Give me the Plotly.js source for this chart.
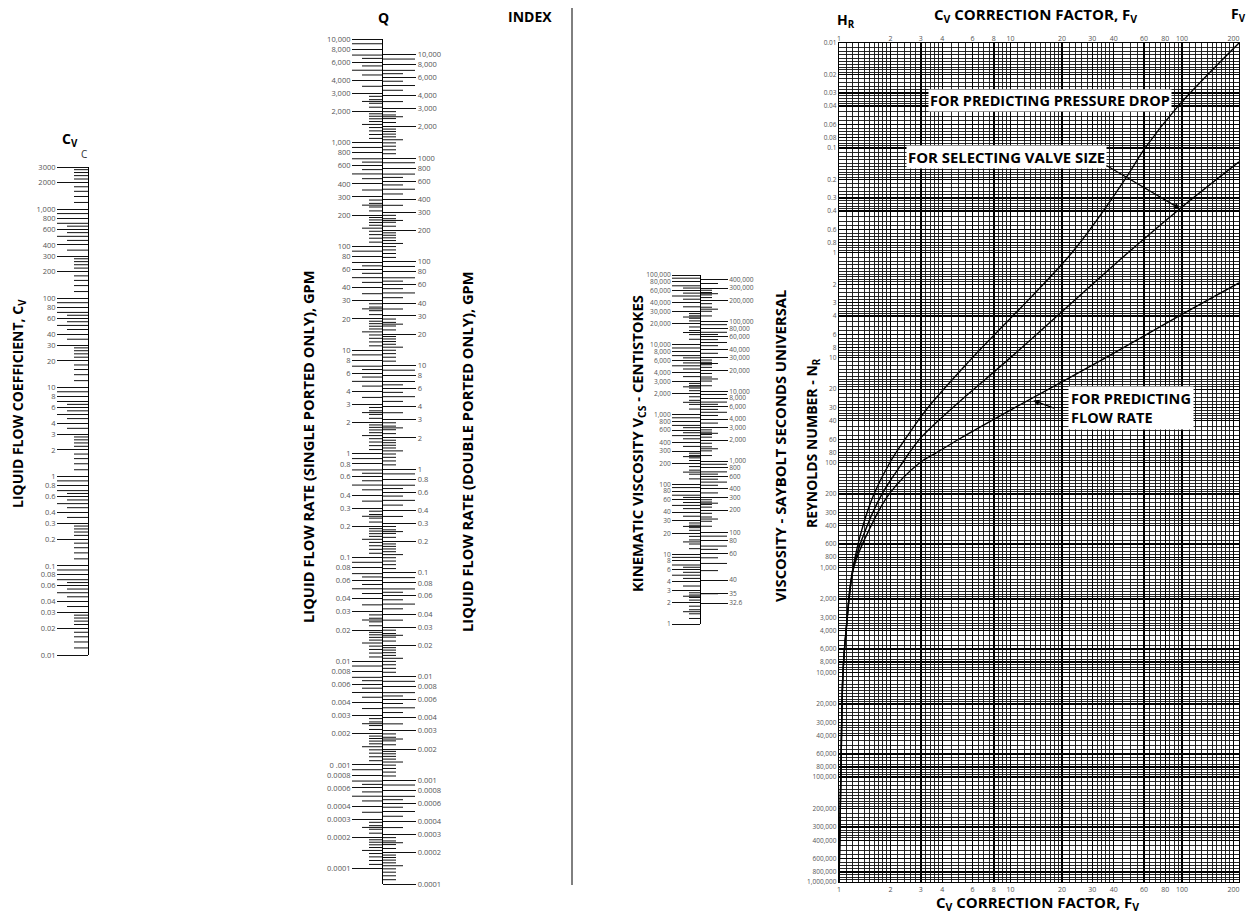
<!DOCTYPE html>
<html><head><meta charset="utf-8">
<script src="https://cdn.plot.ly/plotly-3.0.1.min.js"></script>
<style>html,body{margin:0;padding:0;background:#fff}#chart{width:1247px;height:916px}</style>
</head><body><div id="chart"></div>
<script>
// ---------------- DATA ----------------
const cvLabels=[3000,2000,1000,800,600,400,300,200,100,80,60,40,30,20,10,8,6,4,3,2,1,0.8,0.6,0.4,0.3,0.2,0.1,0.08,0.06,0.04,0.03,0.02,0.01];
const cvText=['3000','2000','1,000','800','600','400','300','200','100','80','60','40','30','20','10','8','6','4','3','2','1','0.8','0.6','0.4','0.3','0.2','0.1','0.08','0.06','0.04','0.03','0.02','0.01'];
const qSingleLabels=[10000,8000,6000,4000,3000,2000,1000,800,600,400,300,200,100,80,60,40,30,20,10,8,6,4,3,2,1,0.8,0.6,0.4,0.3,0.2,0.1,0.08,0.06,0.04,0.03,0.02,0.01,0.008,0.006,0.004,0.003,0.002,0.001,0.0008,0.0006,0.0004,0.0003,0.0002,0.0001];
const qSingleText=['10,000','8,000','6,000','4,000','3,000','2,000','1,000','800','600','400','300','200','100','80','60','40','30','20','10','8','6','4','3','2','1','0.8','0.6','0.4','0.3','0.2','0.1','0.08','0.06','0.04','0.03','0.02','0.01','0.008','0.006','0.004','0.003','0.002','0 .001','0.0008','0.0006','0.0004','0.0003','0.0002','0.0001'];
const qDoubleLabels=[10000,8000,6000,4000,3000,2000,1000,800,600,400,300,200,100,80,60,40,30,20,10,8,6,4,3,2,1,0.8,0.6,0.4,0.3,0.2,0.1,0.08,0.06,0.04,0.03,0.02,0.01,0.008,0.006,0.004,0.003,0.002,0.001,0.0008,0.0006,0.0004,0.0003,0.0002,0.0001];
const qDoubleText=['10,000','8,000','6,000','4,000','3,000','2,000','1000','800','600','400','300','200','100','80','60','40','30','20','10','8','6','4','3','2','1','0.8','0.6','0.4','0.3','0.2','0.1','0.08','0.06','0.04','0.03','0.02','0.01','0.008','0.006','0.004','0.003','0.002','0.001','0.0008','0.0006','0.0004','0.0003','0.0002','0.0001'];
const cstLabels=[100000,80000,60000,40000,30000,20000,10000,8000,6000,4000,3000,2000,1000,800,600,400,300,200,100,80,60,40,30,20,10,8,6,4,3,2,1];
const cstText=['100,000','80,000','60,000','40,000','30,000','20,000','10,000','8,000','6,000','4,000','3,000','2,000','1,000','800','600','400','300','200','100','80','60','40','30','20','10','8','6','4','3','2','1'];
const ssuLabels=[400000,300000,200000,100000,80000,60000,40000,30000,20000,10000,8000,6000,4000,3000,2000,1000,800,600,400,300,200,100,80,60,40,35,32.6];
const ssuText=['400,000','300,000','200,000','100,000','80,000','60,000','40,000','30,000','20,000','10,000','8,000','6,000','4,000','3,000','2,000','1,000','800','600','400','300','200','100','80','60','40','35','32.6'];
const fvTicks=[1,2,3,4,6,8,10,20,30,40,60,80,100,200];
const fvText=['1','2','3','4','6','8','10','20','30','40','60','80','100','200'];
const nrTicks=[0.01,0.02,0.03,0.04,0.06,0.08,0.1,0.2,0.3,0.4,0.6,0.8,1,2,3,4,6,8,10,20,30,40,60,80,100,200,300,400,600,800,1000,2000,3000,4000,6000,8000,10000,20000,30000,40000,60000,80000,100000,200000,300000,400000,600000,800000,1000000];
const nrText=['0.01','0.02','0.03','0.04','0.06','0.08','0.1','0.2','0.3','0.4','0.6','0.8','1','2','3','4','6','8','10','20','30','40','60','80','100','200','300','400','600','800','1,000','2,000','3,000','4,000','6,000','8,000','10,000','20,000','30,000','40,000','60,000','80,000','100,000','200,000','300,000','400,000','600,000','800,000','1,000,000'];
// correction-factor curves (Fv vs Reynolds number)
const pressureNr=[1000000,100000,10000,4000,1000,400,200,100,60,30,10,1,0.2,0.1,0.04,0.01];
const pressureFv=[1.0,1.025,1.055,1.10,1.21,1.38,1.60,1.98,2.43,3.3,6.0,22.8,46.5,61,95,215];
const valveNr=[1000000,100000,10000,4000,1000,400,200,100,60,30,10,1,0.38,0.136];
const valveFv=[1.0,1.025,1.055,1.10,1.21,1.46,1.78,2.35,2.95,4.6,10,48.4,97.3,215];
const flowNr=[1000000,100000,10000,4000,1000,400,200,100,80,60,30,10,3.92,1.94];
const flowFv=[1.0,1.025,1.055,1.10,1.22,1.54,1.96,2.97,3.73,5.0,10.6,36,98.6,215];

// ---------------- HELPERS ----------------
const W=1247,H=916;
const FONT='"Open Sans", "DejaVu Sans", sans-serif';
const px=p=>p/W, py=p=>1-p/H;
const log=Math.log10;
function decadeValues(lo,hi,mants){
  const out=[];
  for(let e=Math.floor(log(lo))-1;e<=Math.ceil(log(hi));e++){
    mants.forEach(m=>{const v=+(m*Math.pow(10,e)).toPrecision(6); if(v>=lo*0.999&&v<=hi*1.001) out.push(v);});
  }
  return out;
}
function segs(vals,len,dir,map){
  const x=[],y=[];
  vals.forEach(v=>{const yy=map?map(v):v; x.push(0,dir*len,null); y.push(yy,yy,null);});
  return {x,y};
}
function tickTrace(vals,len,dir,xa,ya,map){
  const s=segs(vals,len,dir,map);
  return {type:'scatter',mode:'lines',x:s.x,y:s.y,xaxis:xa,yaxis:ya,line:{color:'#111',width:1},hoverinfo:'skip',showlegend:false};
}
// SSU -> cSt (ASTM D2161 relation, inverted numerically)
function cstToSsu(v){return 4.6324*v+(1.0+0.03264*v)/((3930.2+262.7*v+23.97*v*v+1.646*v*v*v)*1e-5);}
function ssuToCst(s){let a=-1,b=6;for(let i=0;i<80;i++){const m=(a+b)/2;if(cstToSsu(Math.pow(10,m))<s)a=m;else b=m;}return Math.pow(10,(a+b)/2);}

const SHORT_M=[1.2,1.4,1.6,1.8,2.2,2.4,2.6,2.8];
const SHORT_Q=[1.1,1.2,1.3,1.4,1.6,1.7,1.8,1.9,2.2,2.4,2.6,2.8];
const MED_M=[1.5,2.5,3.5,4.5,5.5,6.5];
const LONG_M=[5,7,9];

const traces=[];
// ---- main chart curves ----
[[pressureFv,pressureNr],[valveFv,valveNr],[flowFv,flowNr]].forEach(c=>{
  traces.push({type:'scatter',mode:'lines',x:c[0],y:c[1],xaxis:'x',yaxis:'y',line:{color:'#000',width:1.4,shape:'spline',smoothing:1.0},hoverinfo:'skip',showlegend:false});
});
traces.push({type:'scatter',mode:'lines',x:[1],y:[1],xaxis:'x2',yaxis:'y',line:{width:0},hoverinfo:'skip',showlegend:false});

// ---- Cv scale (x3/y3) ----
traces.push(tickTrace(decadeValues(0.01,3000,SHORT_M),14,-1,'x3','y3'));
traces.push(tickTrace(decadeValues(0.01,3000,[3.5,4.5,5.5,6.5]),21,-1,'x3','y3'));
traces.push(tickTrace(decadeValues(0.01,3000,LONG_M),31,-1,'x3','y3'));
// ---- Q scale (x4 / y4 left single, y5 right double) ----
traces.push(tickTrace(decadeValues(0.0001,10000,SHORT_Q),13,-1,'x4','y4'));
traces.push(tickTrace(decadeValues(0.0001,10000,MED_M),20,-1,'x4','y4'));
traces.push(tickTrace(decadeValues(0.0001,10000,LONG_M),30,-1,'x4','y4'));
traces.push(tickTrace(decadeValues(0.0001,10000,SHORT_Q),14,1,'x4','y5'));
traces.push(tickTrace(decadeValues(0.0001,10000,MED_M),21,1,'x4','y5'));
traces.push(tickTrace(decadeValues(0.0001,10000,LONG_M),33,1,'x4','y5'));
// ---- viscosity scale (x6 / y6 cSt left, y7 SSU right) ----
traces.push(tickTrace(decadeValues(1,100000,SHORT_M),11,-1,'x6','y6'));
traces.push(tickTrace(decadeValues(1,100000,MED_M),17,-1,'x6','y6'));
traces.push(tickTrace(decadeValues(1,100000,LONG_M),28,-1,'x6','y6'));
traces.push(tickTrace(decadeValues(34,400000,SHORT_M),12,1,'x6','y7',ssuToCst));
traces.push(tickTrace(decadeValues(34,400000,MED_M),18,1,'x6','y7',ssuToCst));
traces.push(tickTrace(decadeValues(50,400000,LONG_M),27,1,'x6','y7',ssuToCst));

// ---------------- LAYOUT ----------------
const tf={family:FONT,size:7.5,color:'#555'};
const tfv={family:FONT,size:6.6,color:'#555'};
const GRID_M=[1.1,1.2,1.3,1.4,1.5,1.6,1.7,1.8,1.9,2.2,2.4,2.6,2.8,3.2,3.4,3.6,3.8,4.5,5,5.5,6.5,7,7.5,8.5,9,9.5];
const gridMinorX=decadeValues(1,230,GRID_M).filter(v=>fvTicks.indexOf(v)<0);
const gridMinorY=decadeValues(0.01,1000000,GRID_M).filter(v=>nrTicks.indexOf(v)<0);
function scaleY(extra){return Object.assign({type:'log',anchor:'free',showline:true,linecolor:'#000',linewidth:1.2,ticks:'outside',tickcolor:'#111',tickwidth:1,showgrid:false,zeroline:false,tickfont:tf,tickmode:'array'},extra);}
function hiddenX(a,b,ya){return {domain:[px(a),px(b)],range:[-50,50],visible:false,anchor:ya,fixedrange:true};}

const layout={
  width:W,height:H,margin:{l:0,r:0,t:0,b:0},paper_bgcolor:'#fff',plot_bgcolor:'rgba(0,0,0,0)',
  showlegend:false,font:{family:FONT,color:'#000'},
  xaxis:{type:'log',domain:[px(839),px(1239)],range:[0,log(215)],anchor:'y',tickmode:'array',tickvals:fvTicks,ticktext:fvText,ticks:'',
    showgrid:true,gridcolor:'#000',gridwidth:1.4,showline:true,mirror:true,linecolor:'#000',linewidth:1.2,zeroline:false,tickfont:{family:FONT,size:7,color:'#555'},
    minor:{tickmode:'array',tickvals:gridMinorX,showgrid:true,gridcolor:'#111',gridwidth:0.9,ticks:''}},
  xaxis2:{type:'log',overlaying:'x',side:'top',anchor:'y',range:[0,log(215)],tickmode:'array',tickvals:fvTicks,ticktext:fvText,ticks:'',showgrid:false,showline:false,zeroline:false,tickfont:{family:FONT,size:7,color:'#555'}},
  yaxis:{type:'log',domain:[py(882),py(43)],range:[6,-2],anchor:'x',tickmode:'array',tickvals:nrTicks,ticktext:nrText,ticks:'',
    showgrid:true,gridcolor:'#000',gridwidth:1.4,showline:true,mirror:true,linecolor:'#000',linewidth:1.2,zeroline:false,tickfont:{family:FONT,size:6.5,color:'#555'},
    minor:{tickmode:'array',tickvals:gridMinorY,showgrid:true,gridcolor:'#111',gridwidth:0.9,ticks:''}},
  xaxis3:hiddenX(38,138,'y3'),
  yaxis3:scaleY({domain:[py(655),py(167)],range:[-2,log(3000)],position:px(88),side:'left',tickvals:cvLabels,ticktext:cvText,ticklen:31}),
  xaxis4:hiddenX(332,432,'y4'),
  yaxis4:scaleY({domain:[py(884),py(39)],range:[-4-15.3/103.7,4],position:px(382),side:'left',tickvals:qSingleLabels,ticktext:qSingleText,ticklen:30}),
  yaxis5:scaleY({overlaying:'y4',range:[-4,4+15.3/103.7],position:px(382),side:'right',tickvals:qDoubleLabels,ticktext:qDoubleText,ticklen:33}),
  xaxis6:hiddenX(650,750,'y6'),
  yaxis6:scaleY({domain:[py(624),py(275)],range:[0,5],position:px(700),side:'left',tickvals:cstLabels,ticktext:cstText,ticklen:28,tickfont:tfv}),
  yaxis7:scaleY({overlaying:'y6',range:[0,5],position:px(700),side:'right',tickvals:ssuLabels.map(ssuToCst),ticktext:ssuText,ticklen:27,showline:false,tickfont:tfv}),
  shapes:[{type:'line',xref:'paper',yref:'paper',x0:px(572),x1:px(572),y0:py(8),y1:py(885),line:{color:'#000',width:1}}],
  annotations:[]
};
function bf(s){return {family:FONT,size:s,color:'#000',weight:'bold'};}
function ann(text,x,y,o){layout.annotations.push(Object.assign({text:text,xref:'paper',yref:'paper',x:px(x),y:py(y),showarrow:false,xanchor:'center',yanchor:'middle',font:bf(14)},o||{}));}
const B=t=>'<b>'+t+'</b>';
ann(B('C<sub>V</sub>'),70,139);
ann('C',84,154,{font:{family:FONT,size:10,color:'#333'}});
ann(B('Q'),383,17);
ann(B('INDEX'),530,16);
ann(B('H<sub>R</sub>'),846,20);
ann(B('C<sub>V</sub> CORRECTION FACTOR, F<sub>V</sub>'),1035,15,{font:bf(15)});
ann(B('F<sub>V</sub>'),1238,15);
ann(B('C<sub>V</sub> CORRECTION FACTOR, F<sub>V</sub>'),1037,903,{font:bf(15)});
ann(B('LIQUID FLOW COEFFICIENT, C<sub>V</sub>'),18,404,{textangle:-90});
ann(B('LIQUID FLOW RATE (SINGLE PORTED ONLY), GPM'),308,447,{textangle:-90,font:bf(14.7)});
ann(B('LIQUID FLOW RATE (DOUBLE PORTED ONLY), GPM'),467,452,{textangle:-90,font:bf(14.7)});
ann(B('KINEMATIC VISCOSITY V<sub>CS</sub> - CENTISTOKES'),638,444,{textangle:-90,font:bf(14.8)});
ann(B('VISCOSITY - SAYBOLT SECONDS UNIVERSAL'),780,446,{textangle:-90,font:bf(14.8)});
ann(B('REYNOLDS NUMBER - N<sub>R</sub>'),813,443,{textangle:-90});
ann(B('FOR PREDICTING PRESSURE DROP'),1050,100,{bgcolor:'#fff',borderpad:1,font:bf(14.5)});
ann(B('FOR SELECTING VALVE SIZE'),1006,157,{bgcolor:'#fff',borderpad:1,font:bf(14.9)});
ann(B('FOR PREDICTING<br>FLOW RATE'),1068,408,{xanchor:'left',align:'left',bgcolor:'#fff',borderpad:2,font:bf(14.5)});
// arrows
layout.annotations.push({xref:'x',yref:'y',x:log(97.3),y:log(0.38),ax:-75,ay:-44,text:'',showarrow:true,arrowhead:2,arrowsize:1,arrowwidth:1.2,arrowcolor:'#000',standoff:0});
layout.annotations.push({xref:'x',yref:'y',x:log(13.6),y:log(25.7),ax:22,ay:8,text:'',showarrow:true,arrowhead:2,arrowsize:1,arrowwidth:1.2,arrowcolor:'#000',standoff:0});

Plotly.newPlot('chart',traces,layout,{staticPlot:true,displayModeBar:false});
</script></body></html>
